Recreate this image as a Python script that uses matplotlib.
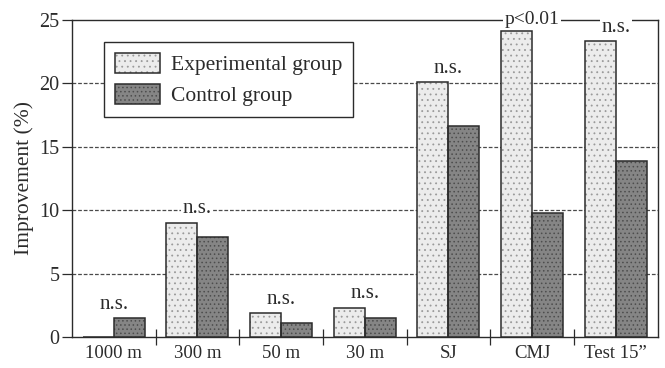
import matplotlib
matplotlib.use("Agg")
import matplotlib.pyplot as plt
from matplotlib.legend_handler import HandlerTuple

# ─── Data ────────────────────────────────────────────────────────────────────

tests        = ["1000 m", "300 m", "50 m", "30 m", "SJ", "CMJ", "Test 15\u201d"]
experimental = [0.0, 9.0, 1.9, 2.3, 20.1, 24.1, 23.3]
control      = [1.5, 7.9, 1.1, 1.5, 16.6, 9.8, 13.9]
significance = ["n.s.", "n.s.", "n.s.", "n.s.", "n.s.", "p<0.01", "n.s."]

# ─── Style ───────────────────────────────────────────────────────────────────

INK    = "#2b2b2b"
LIGHT  = "#ececec"
DARK   = "#858585"
GRID   = "#4a4a4a"

plt.rcParams["font.family"] = ["Liberation Serif", "DejaVu Serif"]
plt.rcParams["hatch.linewidth"] = 0.6

fig = plt.figure(figsize=(6.65, 3.68), dpi=100, facecolor="white")
ax = fig.add_axes([0.108, 0.084, 0.881, 0.862])

x = list(range(len(tests)))
w = 0.37
xe = [i - w / 2 for i in x]
xc = [i + w / 2 for i in x]

# textured fills (hatch only) + outlines on top
be = ax.bar(xe, experimental, width=w, color=LIGHT, edgecolor="#9a9a9a",
            hatch="...", linewidth=0, zorder=3)
bc = ax.bar(xc, control, width=w, color=DARK, edgecolor="#4d4d4d",
            hatch="....", linewidth=0, zorder=3)
oe = ax.bar(xe, experimental, width=w, fill=False, edgecolor=INK,
            linewidth=1.1, zorder=4)
oc = ax.bar(xc, control, width=w, fill=False, edgecolor=INK,
            linewidth=1.1, zorder=4)

# significance labels above each pair
for i, lab in enumerate(significance):
    top = min(max(experimental[i], control[i]) + 1.1, 25.0)
    fs = 14 if lab.startswith("p") else 15
    ax.text(i, top, lab, ha="center", va="center", fontsize=fs, color=INK,
            zorder=6, clip_on=False,
            bbox=dict(facecolor="white", edgecolor="none", pad=1.0))

# axes
ax.set_xlim(-0.5, len(tests) - 0.5)
ax.set_ylim(0, 25)
ax.set_yticks([0, 5, 10, 15, 20, 25])
ax.set_xticks(x)
ax.set_xticklabels(tests)
ax.set_xticks([i + 0.5 for i in x[:-1]], minor=True)
ax.tick_params(axis="x", which="major", length=0, pad=6,
               labelsize=13.5, labelcolor=INK)
ax.tick_params(axis="x", which="minor", direction="inout", length=12,
               width=0.9, color=INK)
ax.tick_params(axis="y", direction="out", length=7, width=0.9, color=INK,
               labelsize=14.5, labelcolor=INK, pad=2)

for yv in [5, 10, 15, 20]:
    ax.axhline(yv, color=GRID, linewidth=0.9, linestyle=(0, (3, 1.5)),
               zorder=1)

for s in ax.spines.values():
    s.set_color(INK)
    s.set_linewidth(1.0)

ax.set_ylabel("Improvement (%)", fontsize=15.5, color=INK, labelpad=4)

leg = ax.legend([(be[0], oe[0]), (bc[0], oc[0])],
                ["Experimental group", "Control group"],
                handler_map={tuple: HandlerTuple(ndivide=1)},
                loc="upper left", bbox_to_anchor=(0.055, 0.93),
                borderaxespad=0, fontsize=15.5, fancybox=False,
                framealpha=1, edgecolor=INK, handlelength=2.1,
                handleheight=1.05, labelspacing=0.4, borderpad=0.5,
                handletextpad=0.5)
leg.get_frame().set_linewidth(1.0)
for t in leg.get_texts():
    t.set_color(INK)
leg.set_zorder(7)

fig.savefig("out.png", dpi=100, facecolor="white")
